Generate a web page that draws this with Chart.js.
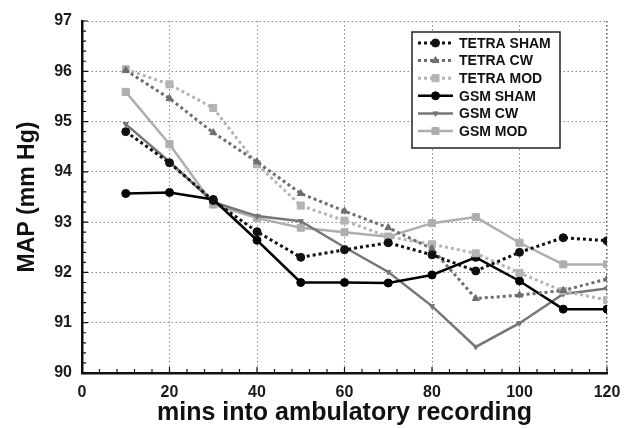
<!DOCTYPE html>
<html>
<head>
<meta charset="utf-8">
<script src="https://cdn.jsdelivr.net/npm/chart.js@4/dist/chart.umd.min.js"></script>
<style>
  html, body { margin: 0; padding: 0; background: #fff; }
  #wrap { width: 638px; height: 428px; }
</style>
</head>
<body>
<div id="wrap"><canvas id="mapChart" width="638" height="428"></canvas></div>
<script>
// minutes into recording
let mins = [10, 20, 30, 40, 50, 60, 70, 80, 90, 100, 110, 120];

// mean arterial pressure per group (mm Hg)
let tetraSham = [94.8, 94.18, 93.43, 92.81, 92.3, 92.45, 92.59, 92.35, 92.03, 92.4, 92.69, 92.63];
let tetraCw = [96.02, 95.46, 94.78, 94.2, 93.57, 93.22, 92.89, 92.47, 91.48, 91.55, 91.64, 91.87];
let tetraMod = [96.04, 95.74, 95.27, 94.15, 93.33, 93.03, 92.71, 92.56, 92.38, 91.99, 91.63, 91.45];
let gsmSham = [93.57, 93.59, 93.45, 92.64, 91.8, 91.8, 91.79, 91.95, 92.3, 91.83, 91.27, 91.27];
let gsmCw = [94.95, 94.2, 93.4, 93.12, 93.02, 92.5, 92.01, 91.33, 90.52, 90.99, 91.57, 91.68];
let gsmMod = [95.59, 94.55, 93.35, 93.08, 92.89, 92.8, 92.71, 92.98, 93.1, 92.59, 92.16, 92.16];

let xTicks = [0, 20, 40, 60, 80, 100, 120];
let yTicks = [90, 91, 92, 93, 94, 95, 96, 97];

function pts(vals) {
    return vals.map(function (v, i) { return { x: mins[i], y: v }; });
}

function series(label, vals, color, dashed, style, radius, rot) {
    return {
        label: label,
        data: pts(vals),
        borderColor: color,
        backgroundColor: color,
        borderWidth: dashed ? 3 : 2.5,
        borderDash: dashed ? [3, 3] : [],
        pointStyle: style,
        pointRadius: radius,
        pointRotation: rot || 0,
        pointBorderWidth: 1,
        tension: 0,
        fill: false
    };
}

let datasets = [
    series("TETRA SHAM", tetraSham, "#111111", true, "circle", 4),
    series("TETRA CW", tetraCw, "#6e6e6e", true, "triangle", 4),
    series("TETRA MOD", tetraMod, "#b4b4b4", true, "rect", 5),
    series("GSM SHAM", gsmSham, "#000000", false, "circle", 4),
    series("GSM CW", gsmCw, "#767676", false, "triangle", 3, 180),
    series("GSM MOD", gsmMod, "#aeaeae", false, "rect", 5)
];

// small inward ticks on the left and bottom axes
let minorTicks = {
    id: "minorTicks",
    afterDatasetsDraw: function (chart) {
        let c = chart.ctx, a = chart.chartArea;
        let xs = chart.scales.x, ys = chart.scales.y;
        c.save();
        c.strokeStyle = "#111";
        c.lineWidth = 1.2;
        c.beginPath();
        for (let v = 0; v <= 120; v += 4) {
            let px = xs.getPixelForValue(v);
            let len = v % 20 === 0 ? 6 : 4;
            c.moveTo(px, a.bottom);
            c.lineTo(px, a.bottom - len);
        }
        for (let v = 90; v <= 97.001; v += 0.2) {
            let py = ys.getPixelForValue(v);
            let len = Math.abs(v - Math.round(v)) < 0.01 ? 6 : 4;
            c.moveTo(a.left, py);
            c.lineTo(a.left + len, py);
        }
        c.stroke();
        c.restore();
    }
};

// boxed legend with line samples and markers
let boxLegend = {
    id: "boxLegend",
    afterDraw: function (chart) {
        let c = chart.ctx;
        let bx = 412, by = 32, bw = 148, bh = 116;
        c.save();
        c.fillStyle = "#fff";
        c.fillRect(bx, by, bw, bh);
        c.strokeStyle = "#222";
        c.lineWidth = 1.5;
        c.strokeRect(bx, by, bw, bh);
        chart.data.datasets.forEach(function (ds, i) {
            let y = 43 + i * 17.6;
            c.strokeStyle = ds.borderColor;
            c.lineWidth = ds.borderWidth;
            c.setLineDash(ds.borderDash);
            c.beginPath();
            c.moveTo(418, y);
            c.lineTo(453, y);
            c.stroke();
            c.setLineDash([]);
            c.fillStyle = ds.backgroundColor;
            c.lineWidth = 1;
            Chart.helpers.drawPoint(c, {
                pointStyle: ds.pointStyle,
                radius: ds.pointRadius,
                rotation: ds.pointRotation,
                borderWidth: 1
            }, 435.5, y);
            c.fillStyle = "#111";
            c.font = "bold 14px 'Liberation Sans', Arial, sans-serif";
            c.textBaseline = "middle";
            c.textAlign = "left";
            c.fillText(ds.label, 459, y + 1);
        });
        c.restore();
    }
};

let tickFont = { family: "'Liberation Sans', Arial, sans-serif", size: 16, weight: "bold" };

new Chart(document.getElementById("mapChart").getContext("2d"), {
    type: "line",
    data: { datasets: datasets },
    plugins: [minorTicks, boxLegend],
    options: {
        responsive: false,
        animation: false,
        layout: { padding: { top: 21, right: 31, bottom: 0, left: 0 } },
        plugins: { legend: { display: false }, tooltip: { enabled: false } },
        scales: {
            x: {
                type: "linear",
                min: 0,
                max: 120,
                afterBuildTicks: function (s) { s.ticks = xTicks.map(function (v) { return { value: v }; }); },
                afterFit: function (s) { s.height = 55; },
                grid: {
                    drawTicks: false,
                    lineWidth: function (ctx) { return ctx.tick && ctx.tick.value === 120 ? 1.5 : 1; },
                    color: function (ctx) { return ctx.tick && ctx.tick.value === 120 ? "#555" : "#8a8a8a"; }
                },
                border: { display: true, color: "#111", width: 2.5, dash: [1.5, 2.5] },
                ticks: { padding: 10, color: "#1a1a1a", font: tickFont },
                title: {
                    display: true,
                    text: "mins into ambulatory recording",
                    color: "#111",
                    padding: { top: 2, bottom: 0 },
                    font: { family: "'Liberation Sans', Arial, sans-serif", size: 25, weight: "bold" }
                }
            },
            y: {
                min: 90,
                max: 97,
                afterBuildTicks: function (s) { s.ticks = yTicks.map(function (v) { return { value: v }; }); },
                afterFit: function (s) { s.width = 82; },
                grid: { drawTicks: false, color: "#8a8a8a", lineWidth: 1 },
                border: { display: true, color: "#111", width: 2.5, dash: [1.5, 2.5] },
                ticks: { padding: 10, color: "#1a1a1a", font: tickFont },
                title: {
                    display: true,
                    text: "MAP (mm Hg)",
                    color: "#111",
                    padding: { top: 14, bottom: 0 },
                    font: { family: "'Liberation Sans', Arial, sans-serif", size: 23, weight: "bold" }
                }
            }
        }
    }
});
</script>
</body>
</html>
